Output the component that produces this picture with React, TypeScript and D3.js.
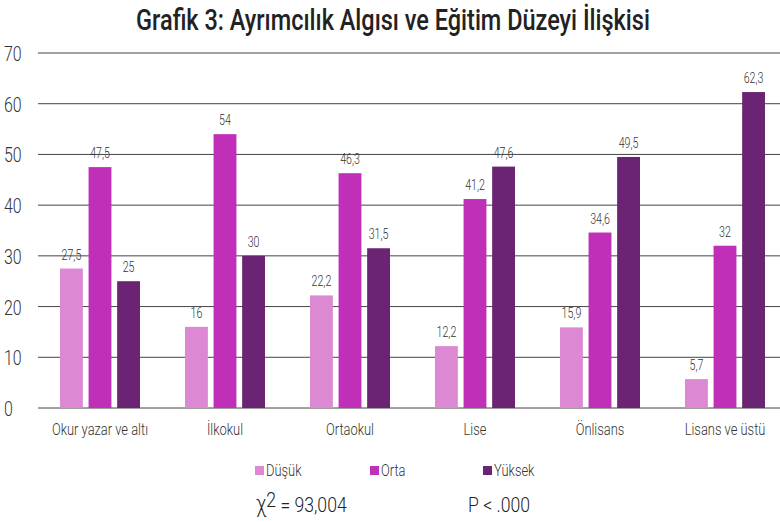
import React from "react";
import * as d3 from "d3";

const categories = ["Okur yazar ve altı", "İlkokul", "Ortaokul", "Lise", "Önlisans", "Lisans ve üstü"];
const seriesNames = ["Düşük", "Orta", "Yüksek"];
const dusuk = [27.5, 16, 22.2, 12.2, 15.9, 5.7];
const orta = [47.5, 54, 46.3, 41.2, 34.6, 32];
const yuksek = [25, 30, 31.5, 47.6, 49.5, 62.3];
const yTicks = [0, 10, 20, 30, 40, 50, 60, 70];
const colors = ["#dd88d2", "#bf2fb8", "#6b2374"];

const W = 780, H = 522;
const FONT = "Roboto, 'DejaVu Sans', sans-serif";
const SX = 0.76;

function T(props: { x: number; y: number; size: number; anchor?: string; weight?: any; fill?: string; sx?: number; children: any }) {
  const { x, y, size, anchor = "start", weight = 300, fill = "#333", sx = SX, children } = props;
  return (
    <text transform={`translate(${x},${y}) scale(${sx},1)`} textAnchor={anchor} fontSize={size} fontWeight={weight} fill={fill}>
      {children}
    </text>
  );
}

export default function App() {
  const left = 38, right = 780, top = 53, bottom = 408;
  const x0 = d3.scaleBand<string>().domain(categories).range([37.5, 787.5]).padding(0);
  const y = d3.scaleLinear().domain([0, 70]).range([bottom, top]);
  const x1 = d3.scaleBand<string>().domain(seriesNames).range([-40, 40]).paddingInner(0.2);
  const series = [dusuk, orta, yuksek];
  const fmt = (v: number) => String(v).replace(".", ",");
  return (
    <svg width={W} height={H} style={{ position: "absolute", left: 0, top: 0, background: "#fff" }} fontFamily={FONT}>
      <T x={393} y={30} size={29} anchor="middle" weight={500} fill="#222" sx={0.81}>Grafik 3: Ayrımcılık Algısı ve Eğitim Düzeyi İlişkisi</T>
      {yTicks.map((t) => (
        <g key={t}>
          <line x1={left} x2={right} y1={y(t)} y2={y(t)} stroke="#444" strokeWidth={1} />
          <T x={4} y={y(t) + 8} size={21}>{t}</T>
        </g>
      ))}
      {categories.map((c, i) => {
        const cx = (x0(c) as number) + x0.bandwidth() / 2;
        return (
          <g key={c}>
            {series.map((s, j) => {
              const bx = cx + (x1(seriesNames[j]) as number);
              const bw = x1.bandwidth();
              return (
                <g key={j}>
                  <rect x={bx} y={y(s[i])} width={bw} height={y(0) - y(s[i])} fill={colors[j]} />
                  <T x={bx + bw / 2} y={y(s[i]) - 9} size={14} anchor="middle">{fmt(s[i])}</T>
                </g>
              );
            })}
            <T x={cx} y={435} size={17} anchor="middle">{c}</T>
          </g>
        );
      })}
      {seriesNames.map((n, j) => {
        const lx = [255, 370, 483][j];
        return (
          <g key={n}>
            <rect x={lx} y={466} width={9} height={9} fill={colors[j]} />
            <T x={lx + 11} y={476} size={17}>{n}</T>
          </g>
        );
      })}
      <T x={256} y={512} size={21} fill="#222" sx={0.84}>
        <tspan fontSize={23}>χ</tspan><tspan dy={-5}>2</tspan><tspan dy={5}> = 93,004</tspan>
      </T>
      <T x={468} y={512} size={21} fill="#222" sx={0.84}>P &lt; .000</T>
    </svg>
  );
}
